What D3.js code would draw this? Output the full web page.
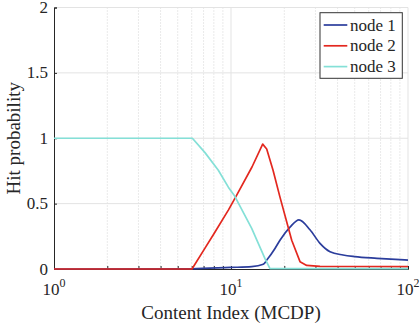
<!DOCTYPE html>
<html><head><meta charset="utf-8">
<script src="https://cdn.jsdelivr.net/npm/d3@7"></script>
<style>body{margin:0;background:#fff}svg{display:block}</style>
</head><body><svg id="c" width="420" height="329" font-family="'Liberation Serif', 'Times New Roman', Times, 'DejaVu Serif', serif"></svg>
<script>
const seriesNames = ["node 1", "node 2", "node 3"];
const seriesColors = ["#2b3d9c", "#e3281f", "#84e0d7"];
const node1X = [1, 6, 9.87, 13.09, 15.22, 15.97, 17.72, 18.91, 21.55, 24.22, 27.94, 31.83, 36.26, 42.95, 50, 66.8, 80, 100];
const node1Y = [0, 0.002, 0.012, 0.018, 0.036, 0.07, 0.157, 0.22, 0.32, 0.376, 0.30, 0.196, 0.132, 0.107, 0.095, 0.082, 0.075, 0.068];
const node2X = [1, 6.02, 7.13, 8.01, 9.66, 10.77, 13.14, 15.10, 15.91, 17.28, 18.91, 22.03, 24.54, 26.77, 31.83, 50, 100];
const node2Y = [0, 0, 0.16, 0.27, 0.45, 0.565, 0.78, 0.955, 0.918, 0.755, 0.55, 0.22, 0.056, 0.027, 0.02, 0.019, 0.018];
const node3X = [1, 6.05, 7.13, 8.48, 9.66, 10.44, 13.09, 15.56, 16.60, 20, 100];
const node3Y = [1, 1, 0.89, 0.755, 0.626, 0.563, 0.31, 0.08, 0.003, 0.003, 0.003];
const yTicks = [0, 0.5, 1, 1.5, 2];
const xMajorTicks = [1, 10, 100];
const xTickExponents = ["0", "1", "2"];
const xLabel = "Content Index (MCDP)";
const yLabel = "Hit probability";

const FONT = "'Liberation Serif', 'Times New Roman', Times, 'DejaVu Serif', serif";
const TXT = "#262626";
const svg = d3.select("#c");
const L = 54, R = 408, T = 7.5, B = 269;
const x = d3.scaleLog().domain([1, 100]).range([L, R]);
const y = d3.scaleLinear().domain([0, 2]).range([B, T]);
const minor = [];
for (const d of [1, 10]) for (let k = 2; k <= 9; k++) minor.push(d * k);

// grid
const g = svg.append("g");
g.selectAll(".mg").data(minor).join("line")
  .attr("x1", d => x(d)).attr("x2", d => x(d)).attr("y1", T).attr("y2", B)
  .attr("stroke", "#d4d4d4").attr("stroke-width", 1).attr("stroke-dasharray", "1,2");
g.selectAll(".gy").data(yTicks.slice(1)).join("line")
  .attr("x1", L).attr("x2", R).attr("y1", d => y(d)).attr("y2", d => y(d))
  .attr("stroke", "#e3e3e3").attr("stroke-width", 1);
g.selectAll(".gx").data(xMajorTicks.slice(1)).join("line")
  .attr("x1", d => x(d)).attr("x2", d => x(d)).attr("y1", T).attr("y2", B)
  .attr("stroke", "#e3e3e3").attr("stroke-width", 1);

// axes
const ax = svg.append("g").attr("transform", `translate(0,${B})`)
  .call(d3.axisBottom(x).tickValues(xMajorTicks.concat(minor)).tickSize(-3).tickFormat(""));
ax.select(".domain").attr("stroke", TXT);
ax.selectAll(".tick line").attr("stroke", TXT);
const ay = svg.append("g").attr("transform", `translate(${L},0)`)
  .call(d3.axisLeft(y).tickValues(yTicks).tickSize(-3).tickFormat(""));
ay.select(".domain").attr("stroke", TXT);
ay.selectAll(".tick line").attr("stroke", TXT);

// tick labels
svg.selectAll(".yl").data(yTicks).join("text")
  .attr("x", 48).attr("y", d => y(d)).attr("dy", "0.33em")
  .attr("text-anchor", "end").attr("font-size", 17).attr("font-family", FONT).attr("fill", TXT).text(d => d);
xMajorTicks.forEach((v, i) => {
  const t = svg.append("text").attr("x", x(v)).attr("y", 295)
    .attr("text-anchor", "middle").attr("font-size", 17).attr("font-family", FONT).attr("fill", TXT);
  t.append("tspan").text("10");
  t.append("tspan").attr("dy", -8).attr("font-size", 12).text(xTickExponents[i]);
});
svg.append("text").attr("x", (L + R) / 2).attr("y", 319).attr("text-anchor", "middle")
  .attr("font-size", 19).attr("font-family", FONT).attr("fill", TXT).text(xLabel);
svg.append("text").attr("transform", `translate(20,${(T + B) / 2}) rotate(-90)`)
  .attr("text-anchor", "middle").attr("font-size", 19).attr("font-family", FONT).attr("fill", TXT).text(yLabel);

// lines
const series = [[node1X, node1Y], [node2X, node2Y], [node3X, node3Y]];
const line = d3.line().x(d => x(d[0])).y(d => y(d[1]));
series.forEach((s, i) => {
  const pts = s[0].map((v, j) => [v, s[1][j]]);
  svg.append("path").datum(pts)
    .attr("d", i === 0 ? line.curve(d3.curveMonotoneX)(pts) : line.curve(d3.curveLinear)(pts))
    .attr("fill", "none").attr("stroke", seriesColors[i]).attr("stroke-width", 1.7)
    .attr("stroke-linejoin", "round");
});

// legend
const lg = svg.append("g");
lg.append("rect").attr("x", 320).attr("y", 12.7).attr("width", 82.3).attr("height", 65.6)
  .attr("fill", "#fff").attr("stroke", "#333").attr("stroke-width", 1);
seriesNames.forEach((n, i) => {
  const yy = 25 + i * 20.8;
  lg.append("line").attr("x1", 323.7).attr("x2", 347.3).attr("y1", yy).attr("y2", yy)
    .attr("stroke", seriesColors[i]).attr("stroke-width", 1.7);
  lg.append("text").attr("x", 350).attr("y", yy).attr("dy", "0.33em").attr("font-size", 17)
    .attr("font-family", FONT).attr("fill", TXT).text(n);
});
</script></body></html>
